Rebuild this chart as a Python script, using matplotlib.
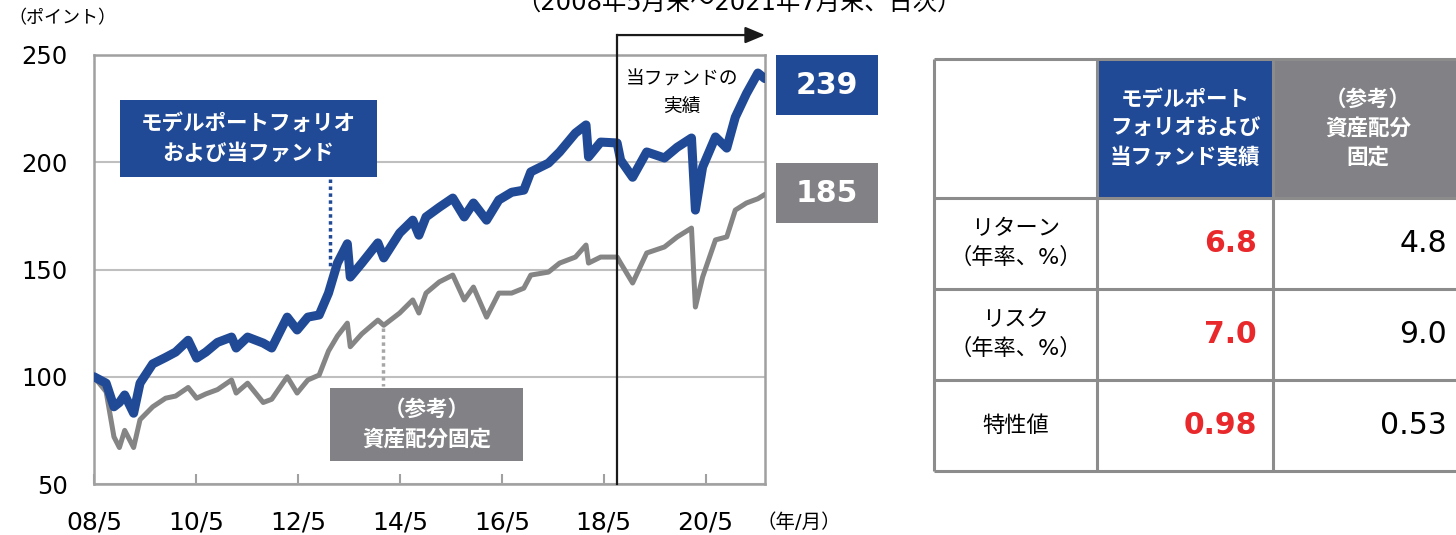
import matplotlib
matplotlib.use("Agg")
import matplotlib.pyplot as plt
import pandas as pd
from matplotlib.patches import Rectangle

plt.rcParams['font.family'] = ['DejaVu Sans', 'Noto Sans CJK JP']

# ---- data (index, 2008/5 = 100) ----
dates = ["2008-05-30", "2008-08-25", "2008-10-20", "2008-11-28", "2009-01-05",
         "2009-03-10", "2009-04-25", "2009-07-25", "2009-10-25", "2010-01-05",
         "2010-04-05", "2010-06-05", "2010-08-10", "2010-11-01", "2011-02-10",
         "2011-03-15", "2011-06-05", "2011-09-25", "2011-11-25", "2012-03-15",
         "2012-05-25", "2012-08-10", "2012-10-30", "2013-01-05", "2013-03-10",
         "2013-05-20", "2013-06-10", "2013-09-01", "2013-12-25", "2014-02-05",
         "2014-05-30", "2014-09-01", "2014-10-15", "2014-12-05", "2015-03-10",
         "2015-06-15", "2015-09-05", "2015-11-10", "2016-02-12", "2016-05-10",
         "2016-08-10", "2016-11-05", "2016-12-25", "2017-05-01", "2017-07-20",
         "2017-11-10", "2018-01-25", "2018-02-12", "2018-05-10", "2018-09-05",
         "2018-09-30", "2018-12-25", "2019-04-05", "2019-08-10", "2019-11-10",
         "2020-02-20", "2020-03-19", "2020-05-10", "2020-08-10", "2020-10-30",
         "2020-12-30", "2021-03-20", "2021-06-10", "2021-07-30"]
model_pf = [100, 97, 86, 88, 91.5,
            83, 97, 106, 109, 111.5,
            117, 108.7, 111.5, 116, 118.5,
            113.4, 118.5, 115.7, 113.4, 127.8,
            121.8, 127.8, 128.8, 139, 153,
            162, 146.5, 153, 162.4, 155.4,
            167, 173, 166, 174.5, 179,
            183.3, 174.5, 181, 173, 182.4,
            186, 187, 195.5, 199.6, 204.8,
            213.6, 217.4, 202.5, 209.4, 209,
            201, 193, 204.8, 202, 207,
            211.3, 177.7, 197.8, 211.8, 206.6,
            221, 232, 241.6, 239]
fixed_alloc = [100, 93, 72, 67, 75,
               67, 80, 86, 90, 91,
               95, 90, 92, 94, 98.5,
               92.4, 97, 88, 89.5, 100,
               92.4, 98.5, 100.8, 112, 119,
               125, 114, 120, 126.4, 124,
               129.7, 135.8, 129.7, 139, 144.2,
               147.4, 135.8, 141.8, 127.8, 139,
               139, 141.3, 147.4, 148.8, 153,
               155.8, 161.4, 153, 155.8, 155.8,
               153, 143.7, 157.7, 160.5, 165.2,
               169.3, 132.5, 146.5, 163.8, 165.2,
               177.7, 181, 183, 185]

tick_dates = ["2008-05-30", "2010-05-31", "2012-05-31", "2014-05-31",
              "2016-05-31", "2018-05-31", "2020-05-31"]
tick_labels = ["08/5", "10/5", "12/5", "14/5", "16/5", "18/5", "20/5"]
fund_start = "2018-09-05"

last_model = "239"
last_fixed = "185"

col_heads = ["モデルポート\nフォリオおよび\n当ファンド実績", "（参考）\n資産配分\n固定"]
row_heads = ["リターン\n（年率、%）", "リスク\n（年率、%）", "特性値"]
model_stats = ["6.8", "7.0", "0.98"]
fixed_stats = ["4.8", "9.0", "0.53"]

BLUE = "#214A96"
GRAY = "#828286"
LINEGRAY = "#858585"
RED = "#E8282B"

x = pd.to_datetime(dates)

fig = plt.figure(figsize=(14.56, 5.35), dpi=100)
ax = fig.add_axes([94 / 1456, 1 - 484 / 535, 671 / 1456, 429 / 535])

ax.plot(x, fixed_alloc, color=LINEGRAY, lw=3.6, solid_joinstyle='round',
        solid_capstyle='round', zorder=3)
ax.plot(x, model_pf, color=BLUE, lw=6.5, solid_joinstyle='round',
        solid_capstyle='round', zorder=4)

ax.set_ylim(50, 250)
ax.set_yticks([50, 100, 150, 200, 250])
ax.set_xlim(pd.Timestamp("2008-05-30"), pd.Timestamp("2021-07-31"))
ax.set_xticks(pd.to_datetime(tick_dates))
ax.set_xticklabels(tick_labels)
ax.grid(axis='y', color="#BFBFBF", lw=1.5)
ax.set_axisbelow(True)
for s in ax.spines.values():
    s.set_color("#A0A0A0")
    s.set_linewidth(1.8)
ax.tick_params(axis='x', direction='in', length=7, width=1.5, color="#A0A0A0",
               labelsize=18, pad=19)
ax.tick_params(axis='y', length=0, labelsize=17.5, pad=19)

# fund start line + arrow
y_top = 259.3
start = pd.Timestamp(fund_start)
ax.plot([start, start], [50, y_top], color="#1A1A1A", lw=1.6, clip_on=False, zorder=5)
ax.annotate("", xy=(pd.Timestamp("2021-07-31"), y_top), xytext=(start, y_top),
            arrowprops=dict(arrowstyle='-|>,head_length=1.2,head_width=0.5',
                            color="#1A1A1A", lw=1.6, shrinkA=0, shrinkB=0),
            annotation_clip=False, zorder=5)

# ---- overlay in pixel coords for labels and table ----
ov = fig.add_axes([0, 0, 1, 1], zorder=3)
ov.set_xlim(0, 1456)
ov.set_ylim(535, 0)
ov.axis('off')

ov.text(682, 93, "当ファンドの\n実績", fontsize=13.5, ha='center', va='center',
        linespacing=1.55)
ov.text(8, 18, "（ポイント）", fontsize=13, ha='left', va='center')
ov.text(756, 522, "（年/月）", fontsize=14, ha='left', va='center')
ov.text(739, 4, "（2008年5月末～2021年7月末、日次）", fontsize=17.5, ha='center', va='center')

def box(x0, y0, x1, y1, color, text, size, ls=1.5):
    ov.add_patch(Rectangle((x0, y0), x1 - x0, y1 - y0, color=color, lw=0))
    ov.text((x0 + x1) / 2, (y0 + y1) / 2, text, color='white', fontsize=size,
            fontweight='bold', ha='center', va='center', linespacing=ls)

box(120, 100, 377, 177, BLUE, "モデルポートフォリオ\nおよび当ファンド", 15.5, 1.55)
box(330, 388, 523, 461, GRAY, "（参考）\n資産配分固定", 15.5, 1.5)
box(776, 55, 878, 115, BLUE, last_model, 21.5)
box(776, 163, 878, 223, GRAY, last_fixed, 21.5)

# leader lines
ov.plot([330, 330], [179, 266], color=BLUE, lw=2.5, ls=(0, (1, 1)))
ov.plot([383, 383], [328, 386], color="#A6A6A6", lw=2.5, ls=(0, (1, 1)))

# table
xs = [934, 1097, 1273, 1463]
ys = [59, 198, 289, 380, 471]
ov.add_patch(Rectangle((xs[1], ys[0]), xs[2] - xs[1], ys[1] - ys[0], color=BLUE, lw=0))
ov.add_patch(Rectangle((xs[2], ys[0]), xs[3] - xs[2], ys[1] - ys[0], color=GRAY, lw=0))
for yy in ys:
    ov.plot([xs[0], xs[3]], [yy, yy], color="#8C8C8C", lw=2.2, solid_capstyle='butt')
for xx in xs:
    ov.plot([xx, xx], [ys[0], ys[-1]], color="#8C8C8C", lw=2.2, solid_capstyle='butt')

for j, head in enumerate(col_heads):
    ov.text((xs[j + 1] + xs[j + 2]) / 2, (ys[0] + ys[1]) / 2, head, color='white',
            fontsize=15.5, fontweight='bold', ha='center', va='center', linespacing=1.5)
for i, lab in enumerate(row_heads):
    yc = (ys[i + 1] + ys[i + 2]) / 2
    ov.text((xs[0] + xs[1]) / 2, yc, lab, fontsize=16, ha='center', va='center',
            linespacing=1.4)
    ov.text(xs[2] - 16, yc, model_stats[i], color=RED, fontsize=21.5,
            fontweight='bold', ha='right', va='center')
    ov.text(xs[3] - 16, yc, fixed_stats[i], fontsize=21.5, ha='right', va='center')

fig.savefig("out.png", dpi=100)
